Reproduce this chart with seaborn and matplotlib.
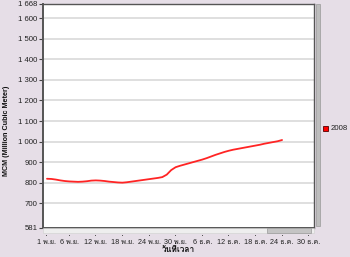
import matplotlib
matplotlib.use("Agg")
import matplotlib.pyplot as plt
from matplotlib.patches import Rectangle
import numpy as np
import pandas as pd
import seaborn as sns

# ---- data ----
day_index = list(range(0, 54))  # days since 1 Nov 2008
values = [820, 819, 816, 812, 809, 807, 806, 805, 806, 808,
          811, 812, 811, 809, 806, 804, 802, 801, 803, 806,
          809, 812, 815, 818, 821, 824, 828, 840, 862, 876,
          883, 889, 895, 901, 907, 913, 920, 928, 936, 943,
          950, 956, 961, 965, 969, 973, 977, 981, 985, 990,
          994, 998, 1002, 1008]
series_name = "2008"
x_tick_days = [0, 5, 11, 17, 23, 29, 35, 41, 47, 53, 59]
x_tick_labels = ["1 พ.ย.", "6 พ.ย.", "12 พ.ย.", "18 พ.ย.", "24 พ.ย.", "30 พ.ย.",
                 "6 ธ.ค.", "12 ธ.ค.", "18 ธ.ค.", "24 ธ.ค.", "30 ธ.ค."]
y_ticks = [581, 700, 800, 900, 1000, 1100, 1200, 1300, 1400, 1500, 1600, 1668]
y_tick_labels = ["581", "700", "800", "900", "1 000", "1 100", "1 200", "1 300",
                 "1 400", "1 500", "1 600", "1 668"]
x_title = "วันที่เวลา"
y_title = "MCM (Million Cubic Meter)"

df = pd.DataFrame({"day": day_index, "value": values, "series": series_name})

sns.set_theme(style="white")
plt.rcParams["font.family"] = ["Liberation Sans", "Loma", "Noto Sans Thai Looped", "DejaVu Sans"]

BG = "#e6dee7"
W, H = 350, 257
fig = plt.figure(figsize=(3.5, 2.57), dpi=100, facecolor=BG)
L, R, T, B = 43, 314, 4, 228
ax = fig.add_axes([L / W, 1 - B / H, (R - L) / W, (B - T) / H])
ax.set_facecolor("white")

sns.lineplot(data=df, x="day", y="value", color="#ff2424", linewidth=1.3,
             ax=ax, legend=False)

ax.set_xlim(-0.9, 60.2)
ax.set_ylim(581, 1668)
ax.set_yticks(y_ticks)
ax.set_yticklabels(y_tick_labels, fontsize=5.6, color="#222222")
ax.set_xticks(x_tick_days)
ax.set_xticklabels(x_tick_labels, fontsize=5.2, color="#222222")
ax.tick_params(axis="y", length=3, width=0.8, pad=1, color="#444444", left=True)
ax.tick_params(axis="x", length=0, pad=8)
for yv in y_ticks[1:-1]:
    ax.axhline(yv, color="#d6d6d6", linewidth=1.1, zorder=0)
for s in ax.spines.values():
    s.set_color("#555555")
    s.set_linewidth(1.0)
ax.spines["left"].set_linewidth(1.4)
ax.spines["bottom"].set_linewidth(1.4)
ax.set_xlabel("")
ax.set_ylabel("")

fig.text((L + R) / 2 / W, 1 - 250 / H, x_title, ha="center", va="center",
         fontsize=6.0, fontweight="bold", color="#111111")
fig.text(7 / W, 1 - 131 / H, y_title, ha="center", va="center", rotation=90,
         fontsize=5.2, fontweight="bold", color="#111111")

# scrollbars (decor)
fig.patches.append(Rectangle((316 / W, 1 - 226 / H), 4 / W, 222 / H,
                             transform=fig.transFigure, facecolor="#bdbdbd",
                             edgecolor="#9a9a9a", linewidth=0.5))
fig.patches.append(Rectangle((L / W, 1 - 233 / H), (R - L) / W, 5 / H,
                             transform=fig.transFigure, facecolor="#eeeeee",
                             edgecolor="#cfcfcf", linewidth=0.4))
fig.patches.append(Rectangle((267 / W, 1 - 233 / H), 44 / W, 5 / H,
                             transform=fig.transFigure, facecolor="#c4c4c4",
                             edgecolor="#9a9a9a", linewidth=0.5))
for d in x_tick_days:
    xp = ax.transData.transform((d, 0))[0]
    fig.patches.append(Rectangle((xp / W - 0.5 / W, 1 - 236 / H), 1 / W, 1.5 / H,
                                 transform=fig.transFigure, facecolor="#555555",
                                 edgecolor="none"))

# legend
fig.patches.append(Rectangle((323 / W, 1 - 131 / H), 4.5 / W, 5 / H,
                             transform=fig.transFigure, facecolor="#ff0000",
                             edgecolor="#550000", linewidth=0.6))
fig.text(331 / W, 1 - 128.5 / H, series_name, ha="left", va="center",
         fontsize=5.6, color="#222222")

fig.savefig("out.png", dpi=100, facecolor=BG)
